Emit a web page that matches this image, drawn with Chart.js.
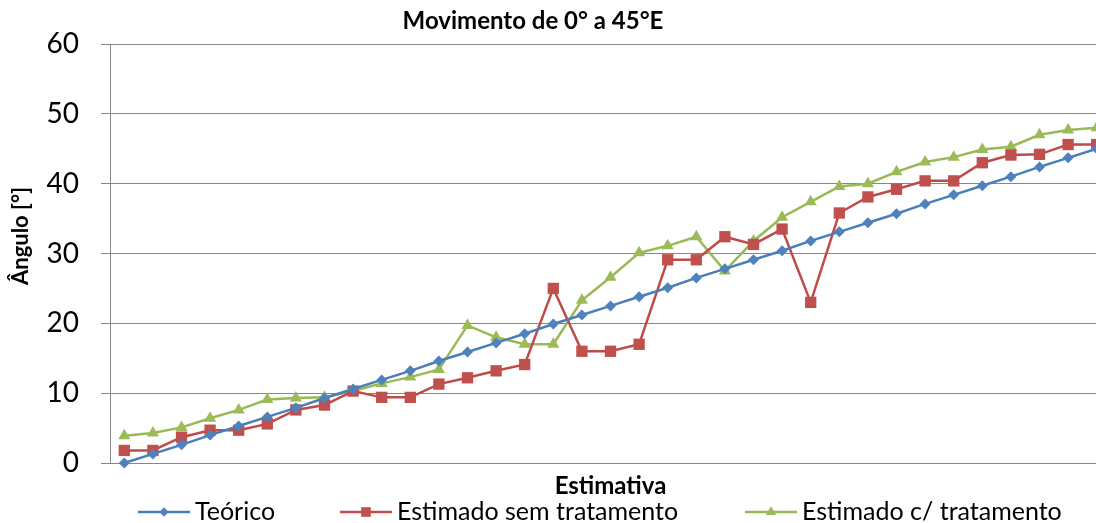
<!DOCTYPE html>
<html>
<head>
<meta charset="utf-8">
<script src="https://cdn.jsdelivr.net/npm/chart.js@4/dist/chart.umd.min.js"></script>
<style>
body { margin: 0; background: #fff; }
#wrap { width: 1096px; height: 523px; overflow: hidden; }
#box { width: 1119px; height: 523px; position: relative; }
</style>
</head>
<body>
<div id="wrap"><div id="box"><canvas id="chartID"></canvas></div></div>
<script>
let labels = [1,2,3,4,5,6,7,8,9,10,11,12,13,14,15,16,17,18,19,20,21,22,23,24,25,26,27,28,29,30,31,32,33,34,35]

let teorico = [0, 1.3, 2.6, 4.0, 5.3, 6.6, 7.9, 9.3, 10.6, 11.9, 13.2, 14.6, 15.9, 17.2, 18.5, 19.9, 21.2, 22.5,
	23.8, 25.1, 26.5, 27.8, 29.1, 30.4, 31.8, 33.1, 34.4, 35.7, 37.1, 38.4, 39.7, 41.0, 42.4, 43.7, 45.0]

let semTratamento = [1.8, 1.8, 3.7, 4.7, 4.7, 5.6, 7.6, 8.3, 10.3, 9.4, 9.4, 11.3, 12.2, 13.2, 14.1, 25.0, 16.0, 16.0,
	17.0, 29.1, 29.1, 32.4, 31.3, 33.5, 23.0, 35.8, 38.1, 39.2, 40.4, 40.4, 43.0, 44.1, 44.2, 45.6, 45.6]

let comTratamento = [3.9, 4.3, 5.1, 6.4, 7.6, 9.1, 9.3, 9.4, 10.3, 11.4, 12.3, 13.4, 19.7, 18.0, 17.0, 17.0, 23.3, 26.6,
	30.1, 31.1, 32.4, 27.5, 31.8, 35.2, 37.4, 39.6, 40.0, 41.7, 43.1, 43.8, 44.9, 45.3, 47.0, 47.7, 48.0]

const FONT = "Lato, 'Open Sans', sans-serif"

function serie(label, values, line, fill, style, radius) {
	return {
		label: label,
		data: values,
		borderColor: line,
		backgroundColor: fill,
		borderWidth: 2.5,
		pointStyle: style,
		pointRadius: radius,
		pointHoverRadius: radius,
		pointBackgroundColor: fill,
		pointBorderColor: fill,
		pointBorderWidth: 0,
		lineTension: 0,
		fill: false,
		clip: false,
	}
}

const data = {
	labels: labels,
	datasets: [
		serie('Teórico', teorico, '#4A7EBB', '#4F81BD', 'rectRot', 5.5),
		serie('Estimado sem tratamento', semTratamento, '#BE4B48', '#C0504D', 'rect', 8),
		serie('Estimado c/ tratamento', comTratamento, '#98B954', '#9BBB59', 'triangle', 7),
	],
}

// title, y title and legend drawn by hand to sit where the original has them
const textPlugin = {
	id: 'textPlugin',
	afterDraw(chart) {
		const ctx = chart.ctx
		ctx.save()
		ctx.fillStyle = '#000'
		ctx.textBaseline = 'middle'
		ctx.textAlign = 'center'
		ctx.font = 'bold 24px ' + FONT
		ctx.fillText('Movimento de 0° a 45°E', 533, 21)

		ctx.font = 'bold 22px ' + FONT
		ctx.save()
		ctx.translate(21, 236)
		ctx.rotate(-Math.PI / 2)
		ctx.fillText('Ângulo [°]', 0, 0)
		ctx.restore()

		const starts = [138, 340, 745]
		const y = 512
		chart.data.datasets.forEach(function(ds, i) {
			const x = starts[i]
			ctx.strokeStyle = ds.borderColor
			ctx.lineWidth = 2.5
			ctx.beginPath()
			ctx.moveTo(x, y)
			ctx.lineTo(x + 52, y)
			ctx.stroke()
			ctx.fillStyle = ds.pointBackgroundColor
			ctx.strokeStyle = ds.pointBackgroundColor
			Chart.helpers.drawPoint(ctx, {pointStyle: ds.pointStyle, radius: ds.pointRadius * 0.85, rotation: 0, borderWidth: 0}, x + 26, y)
			ctx.fillStyle = '#000'
			ctx.textAlign = 'left'
			ctx.font = '25px ' + FONT
			ctx.fillText(ds.label, x + 57, y)
		})
		ctx.restore()
	},
}

let chartCtx = document.getElementById('chartID').getContext('2d')
let lineChart = new Chart(chartCtx, {
	type: 'line',
	data: data,
	plugins: [textPlugin],
	options: {
		responsive: true,
		maintainAspectRatio: false,
		animation: false,
		layout: { padding: { top: 44, right: 1, left: 0, bottom: 0 } },
		plugins: {
			legend: { display: false },
			title: { display: false },
			tooltip: { enabled: false },
		},
		scales: {
			x: {
				offset: true,
				grid: { display: false, offset: true },
				border: { display: true, color: '#868686', width: 1 },
				ticks: { display: false },
				title: {
					display: true,
					text: 'Estimativa',
					color: '#000',
					font: { family: FONT, size: 24, weight: 'bold' },
					padding: { top: 0, bottom: 22 },
				},
				afterFit: function(scale) { scale.height = 60 },
			},
			y: {
				min: 0,
				max: 60,
				ticks: {
					stepSize: 10,
					color: '#000',
					padding: 22,
					font: { family: FONT, size: 28 },
				},
				grid: { color: '#868686', lineWidth: 1, tickLength: 9 },
				border: { color: '#868686', width: 1 },
				afterFit: function(scale) { scale.width = 110 },
			},
		},
	},
})
</script>
</body>
</html>
